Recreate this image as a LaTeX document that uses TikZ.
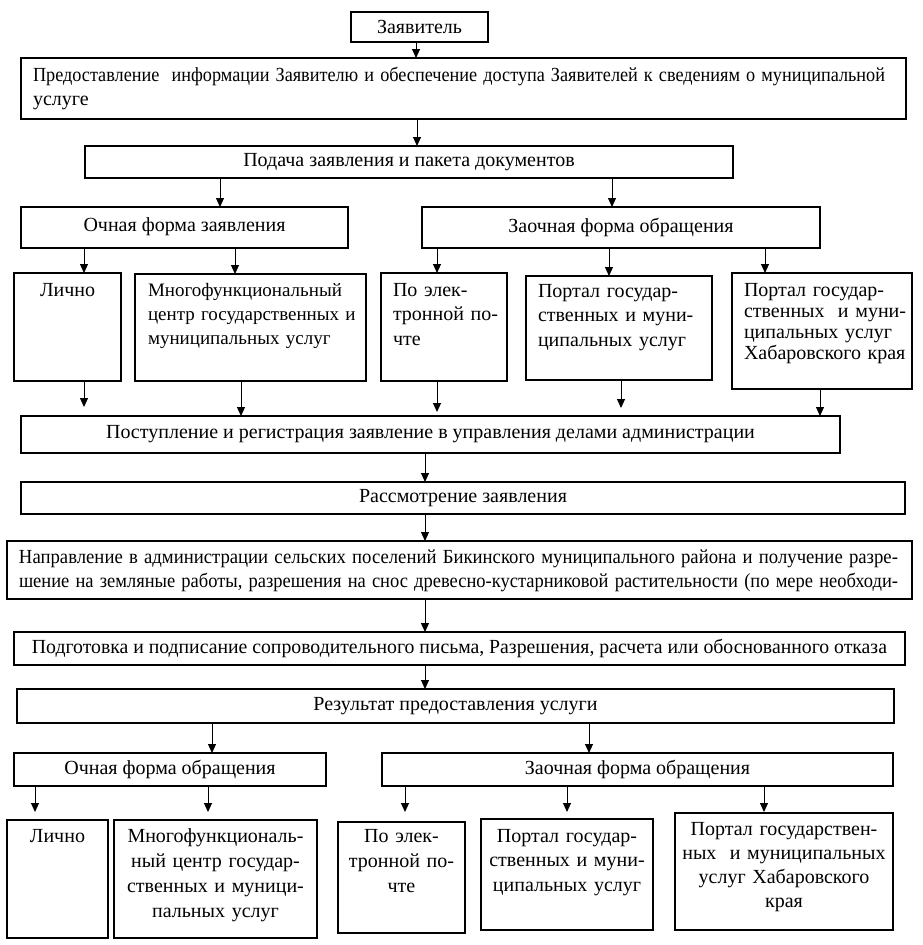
\documentclass[tikz,border=0pt]{standalone}
\usepackage{fontspec}
\setmainfont{Liberation Serif}
\usetikzlibrary{arrows.meta}
\tikzset{
  box/.style={draw, line width=1.1pt, rectangle, inner sep=0pt, outer sep=0pt},
  txt/.style={inner sep=0pt, outer sep=0pt, anchor=base west, align=left},
  ctxt/.style={inner sep=0pt, outer sep=0pt, anchor=base, align=center},
  arr/.style={line width=1pt, -{Triangle[length=9pt,width=8pt]}},
}
\newcommand\mkbox[6]{% name, x1, y1, x2, y2, text
  \pgfmathsetmacro\bw{#4-#2}\pgfmathsetmacro\bh{#5-#3}%
  \node[box, minimum width=\bw pt, minimum height=\bh pt] (#1) at ({(#2+#4)/2},{(#3+#5)/2}) {#6};}
\begin{document}
\begin{tikzpicture}[x=1pt, y=-1pt, font=\fontsize{20}{24.5}\selectfont]
\useasboundingbox (0,0) rectangle (922,945);
% boxes
\mkbox{zayav}{351}{12}{488}{42}{Заявитель}
\mkbox{info}{21}{58}{906}{119}{}
\mkbox{podacha}{85}{146}{733}{178}{Подача заявления и пакета документов}
\mkbox{ochz}{21}{207}{348}{248}{\raisebox{5pt}{Очная форма заявления}}
\mkbox{zaochz}{422}{207}{820}{248}{\raisebox{5pt}{Заочная форма обращения}}
\mkbox{lich1}{14}{273}{121}{381}{}
\mkbox{mfc1}{135}{274}{366}{381}{}
\mkbox{email1}{381}{273}{507}{381}{}
\mkbox{port1}{526}{276}{712}{380}{}
\mkbox{khab1}{732}{273}{912}{389}{}
\mkbox{postup}{21}{416}{840}{453}{Поступление и регистрация заявление в управления делами администрации}
\mkbox{rassm}{21}{482}{905}{514}{Рассмотрение заявления}
\mkbox{naprav}{7}{541}{912}{599}{}
\mkbox{podgot}{14}{632}{905}{665}{\resizebox{855pt}{\height}{Подготовка и подписание сопроводительного письма, Разрешения, расчета или обоснованного отказа}}
\mkbox{result}{17}{689}{894}{723}{Результат предоставления услуги}
\mkbox{ocho}{14}{753}{326}{786}{Очная форма обращения}
\mkbox{zaocho}{382}{753}{893}{786}{Заочная форма обращения}
\mkbox{lich2}{7}{820}{108}{938}{}
\mkbox{mfc2}{114}{820}{317}{938}{}
\mkbox{email2}{338}{822}{465}{933}{}
\mkbox{port2}{481}{819}{653}{930}{}
\mkbox{khab2}{675}{813}{893}{930}{}
% texts
\node[txt, text width=870pt] (tinfo) at (33,81) {\resizebox{852pt}{\height}{Предоставление\ \ информации Заявителю и обеспечение доступа Заявителей к сведениям о муниципальной}\\услуге};
\node[txt, text width=80pt] (tlich1) at (40,296) {Лично};
\node[txt, text width=225pt, font=\fontsize{19}{24}\selectfont] (tmfc1) at (148,296) {Многофункциональный\\центр государственных и\\муниципальных услуг};
\node[txt, text width=115pt] (temail1) at (393,296) {По элек-\\тронной по-\\чте};
\node[txt, text width=175pt] (tport1) at (538,297) {Портал государ-\\ственных и муни-\\ципальных услуг};
\node[txt, text width=170pt, font=\fontsize{20}{21}\selectfont] (tkhab1) at (744,296) {Портал государ-\\ственных\ \ и муни-\\ципальных услуг\\Хабаровского края};
\node[txt, text width=880pt] (tnaprav) at (19,563) {\resizebox{879pt}{\height}{Направление в администрации сельских поселений Бикинского муниципального района и получение разре-}\\\resizebox{879pt}{\height}{шение на земляные работы, разрешения на снос древесно-кустарниковой растительности (по мере необходи-}};
\node[ctxt, text width=101pt] (tlich2) at (57.5,842) {Лично};
\node[ctxt, text width=203pt, font=\fontsize{20}{25}\selectfont] (tmfc2) at (215.5,842) {Многофункциональ-\\ный центр государ-\\ственных и муници-\\пальных услуг};
\node[ctxt, text width=127pt, font=\fontsize{20}{25}\selectfont] (temail2) at (401.5,842) {По элек-\\тронной по-\\чте};
\node[ctxt, text width=172pt] (tport2) at (567,842) {Портал государ-\\ственных и муни-\\ципальных услуг};
\node[ctxt, text width=218pt, font=\fontsize{20}{24}\selectfont] (tkhab2) at (784,835) {Портал государствен-\\ных\ \ и муниципальных\\услуг Хабаровского\\края};
% arrows
\draw[arr] (zayav.south -| 416,0) -- (info.north -| 416,0);
\draw[arr] (info.south -| 417,0) -- (podacha.north -| 417,0);
\draw[arr] (podacha.south -| 220,0) -- (ochz.north -| 220,0);
\draw[arr] (podacha.south -| 612,0) -- (zaochz.north -| 612,0);
\draw[arr] (ochz.south -| 84,0) -- (lich1.north -| 84,0);
\draw[arr] (ochz.south -| 235,0) -- (mfc1.north -| 235,0);
\draw[arr] (zaochz.south -| 437,0) -- (email1.north -| 437,0);
\draw[arr] (zaochz.south -| 609,0) -- (port1.north -| 609,0);
\draw[arr] (zaochz.south -| 765,0) -- (khab1.north -| 765,0);
\draw[arr, shorten >=9pt] (lich1.south -| 84,0) -- (postup.north -| 84,0);
\draw[arr] (mfc1.south -| 241,0) -- (postup.north -| 241,0);
\draw[arr, shorten >=4pt] (email1.south -| 437,0) -- (postup.north -| 437,0);
\draw[arr, shorten >=8pt] (port1.south -| 621,0) -- (postup.north -| 621,0);
\draw[arr] (khab1.south -| 820,0) -- (postup.north -| 820,0);
\draw[arr] (postup.south -| 425,0) -- (rassm.north -| 425,0);
\draw[arr] (rassm.south -| 425,0) -- (naprav.north -| 425,0);
\draw[arr] (naprav.south -| 425,0) -- (podgot.north -| 425,0);
\draw[arr] (podgot.south -| 425,0) -- (result.north -| 425,0);
\draw[arr] (result.south -| 212,0) -- (ocho.north -| 212,0);
\draw[arr] (result.south -| 589,0) -- (zaocho.north -| 589,0);
\draw[arr, shorten >=8pt] (ocho.south -| 35,0) -- (lich2.north -| 35,0);
\draw[arr, shorten >=8pt] (ocho.south -| 208,0) -- (mfc2.north -| 208,0);
\draw[arr, shorten >=10pt] (zaocho.south -| 405,0) -- (email2.north -| 405,0);
\draw[arr, shorten >=7pt] (zaocho.south -| 567,0) -- (port2.north -| 567,0);
\draw[arr, shorten >=1pt] (zaocho.south -| 764,0) -- (khab2.north -| 764,0);
\end{tikzpicture}
\end{document}
